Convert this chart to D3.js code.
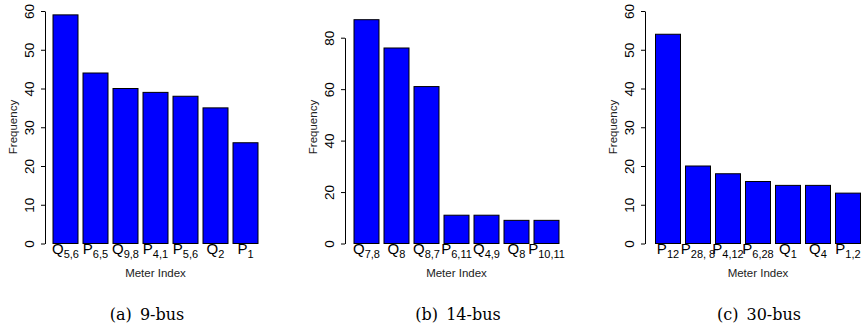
<!DOCTYPE html>
<html>
<head>
<meta charset="utf-8">
<script src="https://cdn.jsdelivr.net/npm/d3@7"></script>
<style>
  body { margin: 0; background: #fff; }
  svg { display: block; }
</style>
</head>
<body>
<svg id="chart"></svg>
<script>
// data
const captions = ["(a) 9-bus", "(b) 14-bus", "(c) 30-bus"];
const meters9 = ["Q5,6", "P6,5", "Q9,8", "P4,1", "P5,6", "Q2", "P1"];
const freq9 = [59, 44, 40, 39, 38, 35, 26];
const meters14 = ["Q7,8", "Q8", "Q8,7", "P6,11", "Q4,9", "Q8", "P10,11"];
const freq14 = [87, 76, 61, 11, 11, 9, 9];
const meters30 = ["P12", "P28, 8", "P4,12", "P6,28", "Q1", "Q4", "P1,2"];
const freq30 = [54, 20, 18, 16, 15, 15, 13];
const yTicks60 = [0, 10, 20, 30, 40, 50, 60];
const yTicks80 = [0, 20, 40, 60, 80];

const width = 862;
const height = 326;
const baseY = 243.5;

// layout of each panel (pixels)
const panels = [
  { meters: meters9, freq: freq9, ticks: yTicks60, axisX: 45, barLeft: 53, top: 11, capX: 147 },
  { meters: meters14, freq: freq14, ticks: yTicks80, axisX: 345, barLeft: 354, top: 37.7, capX: 458 },
  { meters: meters30, freq: freq30, ticks: yTicks60, axisX: 645, barLeft: 655.5, top: 11, capX: 759 }
];

const svg = d3.select("#chart")
    .attr("width", width)
    .attr("height", height);

const sans = "'Liberation Sans', Arial, Helvetica, sans-serif";

panels.forEach((p, k) => {
  const g = svg.append("g");

  // x: 7 bars, width 25 with 5px gaps
  const x = d3.scaleBand()
      .domain(p.meters.map((d, i) => i))
      .range([p.barLeft - 2.5, p.barLeft - 2.5 + 30 * p.meters.length])
      .paddingInner(1 / 6)
      .paddingOuter(1 / 12);

  const y = d3.scaleLinear()
      .domain([0, d3.max(p.ticks)])
      .range([baseY, p.top]);

  // bars
  g.selectAll("rect")
    .data(p.freq)
    .join("rect")
      .attr("x", (d, i) => x(i))
      .attr("y", d => y(d))
      .attr("width", x.bandwidth())
      .attr("height", d => y(0) - y(d))
      .attr("fill", "#0000ff")
      .attr("stroke", "#000")
      .attr("stroke-width", 1);

  // y axis, labels parallel to the axis like R
  const yAxis = g.append("g")
      .attr("transform", `translate(${p.axisX},0)`)
      .call(d3.axisLeft(y).tickValues(p.ticks).tickSize(4).tickSizeOuter(0));
  yAxis.select(".domain").attr("stroke", "#000");
  yAxis.selectAll("line").attr("stroke", "#000");
  yAxis.selectAll("text")
      .attr("x", 0)
      .attr("y", -11)
      .attr("dy", 0)
      .attr("transform", "rotate(-90)")
      .attr("text-anchor", "middle")
      .attr("font-family", sans)
      .attr("font-size", 13.5)
      .attr("fill", "#000");

  // meter labels with subscripts
  p.meters.forEach((m, i) => {
    const t = g.append("text")
        .attr("x", x(i) + x.bandwidth() / 2)
        .attr("y", 253.5)
        .attr("text-anchor", "middle")
        .attr("font-family", sans)
        .attr("font-size", 15)
        .attr("fill", "#000");
    t.append("tspan").text(m[0]);
    t.append("tspan")
        .attr("font-size", 11)
        .attr("dy", 4)
        .text(m.slice(1));
  });

  const midX = (x.range()[0] + x.range()[1]) / 2;

  g.append("text")
      .attr("x", midX)
      .attr("y", 277)
      .attr("text-anchor", "middle")
      .attr("font-family", sans)
      .attr("font-size", 11.5)
      .attr("fill", "#222")
      .text("Meter Index");

  g.append("text")
      .attr("transform", `translate(${p.axisX - 28},127) rotate(-90)`)
      .attr("text-anchor", "middle")
      .attr("font-family", sans)
      .attr("font-size", 11.5)
      .attr("fill", "#222")
      .text("Frequency");

  g.append("text")
      .attr("x", p.capX)
      .attr("y", 320)
      .attr("text-anchor", "middle")
      .attr("font-family", "'DejaVu Serif', serif")
      .attr("font-size", 16)
      .attr("word-spacing", 3)
      .attr("fill", "#000")
      .text(captions[k]);
});
</script>
</body>
</html>
